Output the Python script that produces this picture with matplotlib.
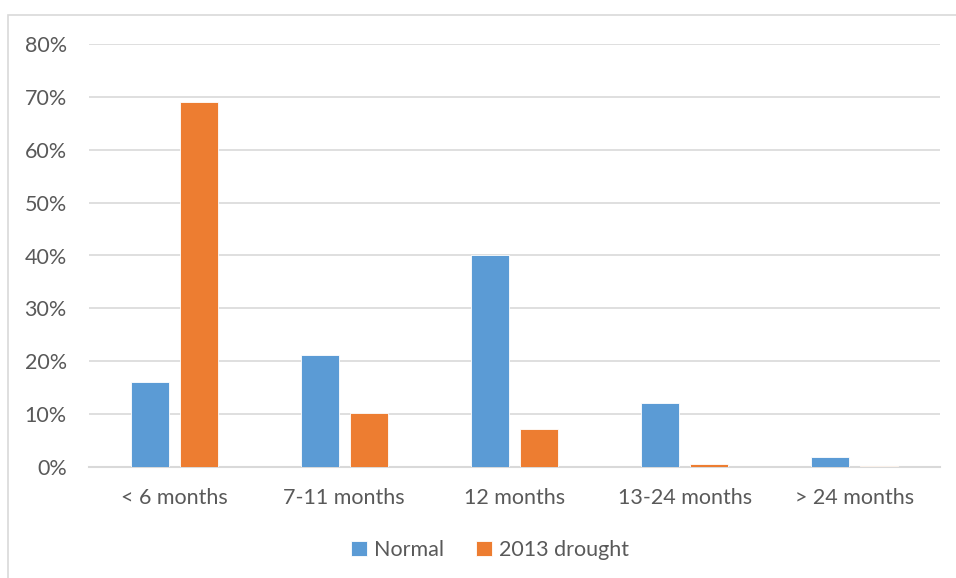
import matplotlib
matplotlib.use("Agg")
import matplotlib.pyplot as plt
from matplotlib.patches import Rectangle
import numpy as np

categories = ["< 6 months", "7-11 months", "12 months", "13-24 months", "> 24 months"]
normal = [16.1, 21.1, 40.1, 12.1, 1.9]
drought_2013 = [69.1, 10.2, 7.1, 0.5, 0.1]
yticks = [0, 10, 20, 30, 40, 50, 60, 70, 80]

plt.rcParams["font.family"] = ["Lato", "DejaVu Sans"]
text_color = "#595959"
blue = "#5B9BD5"
orange = "#ED7D31"
fs = 15.5

fig = plt.figure(figsize=(9.56, 5.78), dpi=100)
# outer chart frame (open on the right and bottom)
fig.patches.append(Rectangle((8 / 956, -0.02), 1.05, 1 - 15 / 578 + 0.02,
                             transform=fig.transFigure, fill=False,
                             edgecolor="#D9D9D9", linewidth=1.2))

ax = fig.add_axes([89 / 956, 1 - 467 / 578, (940 - 89) / 956, (467 - 44) / 578])
x = np.arange(len(categories))
w = 0.223
off = 0.144
ax.bar(x - off, normal, w, color=blue, edgecolor="white", linewidth=0.6, label="Normal", zorder=3)
ax.bar(x + off, drought_2013, w, color=orange, edgecolor="white", linewidth=0.6, label="2013 drought", zorder=3)

ax.set_xlim(-0.5, len(categories) - 0.5)
ax.set_ylim(0, 80)
ax.set_yticks(yticks)
ax.set_yticklabels([f"{v}%" for v in yticks])
ax.set_xticks(x)
ax.set_xticklabels(categories)
ax.tick_params(axis="both", length=0, labelsize=fs, colors=text_color)
ax.tick_params(axis="y", pad=16)
ax.tick_params(axis="x", pad=15)
ax.grid(axis="y", color="#D9D9D9", linewidth=1.2, zorder=0)
for s in ["top", "right", "left"]:
    ax.spines[s].set_visible(False)
ax.spines["bottom"].set_color("#D9D9D9")
ax.spines["bottom"].set_linewidth(1.5)

leg = fig.legend(loc="center", bbox_to_anchor=(490 / 956, 1 - 550 / 578), ncol=2,
                 frameon=False, fontsize=fs, handlelength=0.75, handleheight=0.75,
                 handletextpad=0.3, columnspacing=1.5)
for t in leg.get_texts():
    t.set_color(text_color)

fig.savefig("out.png", dpi=100)
